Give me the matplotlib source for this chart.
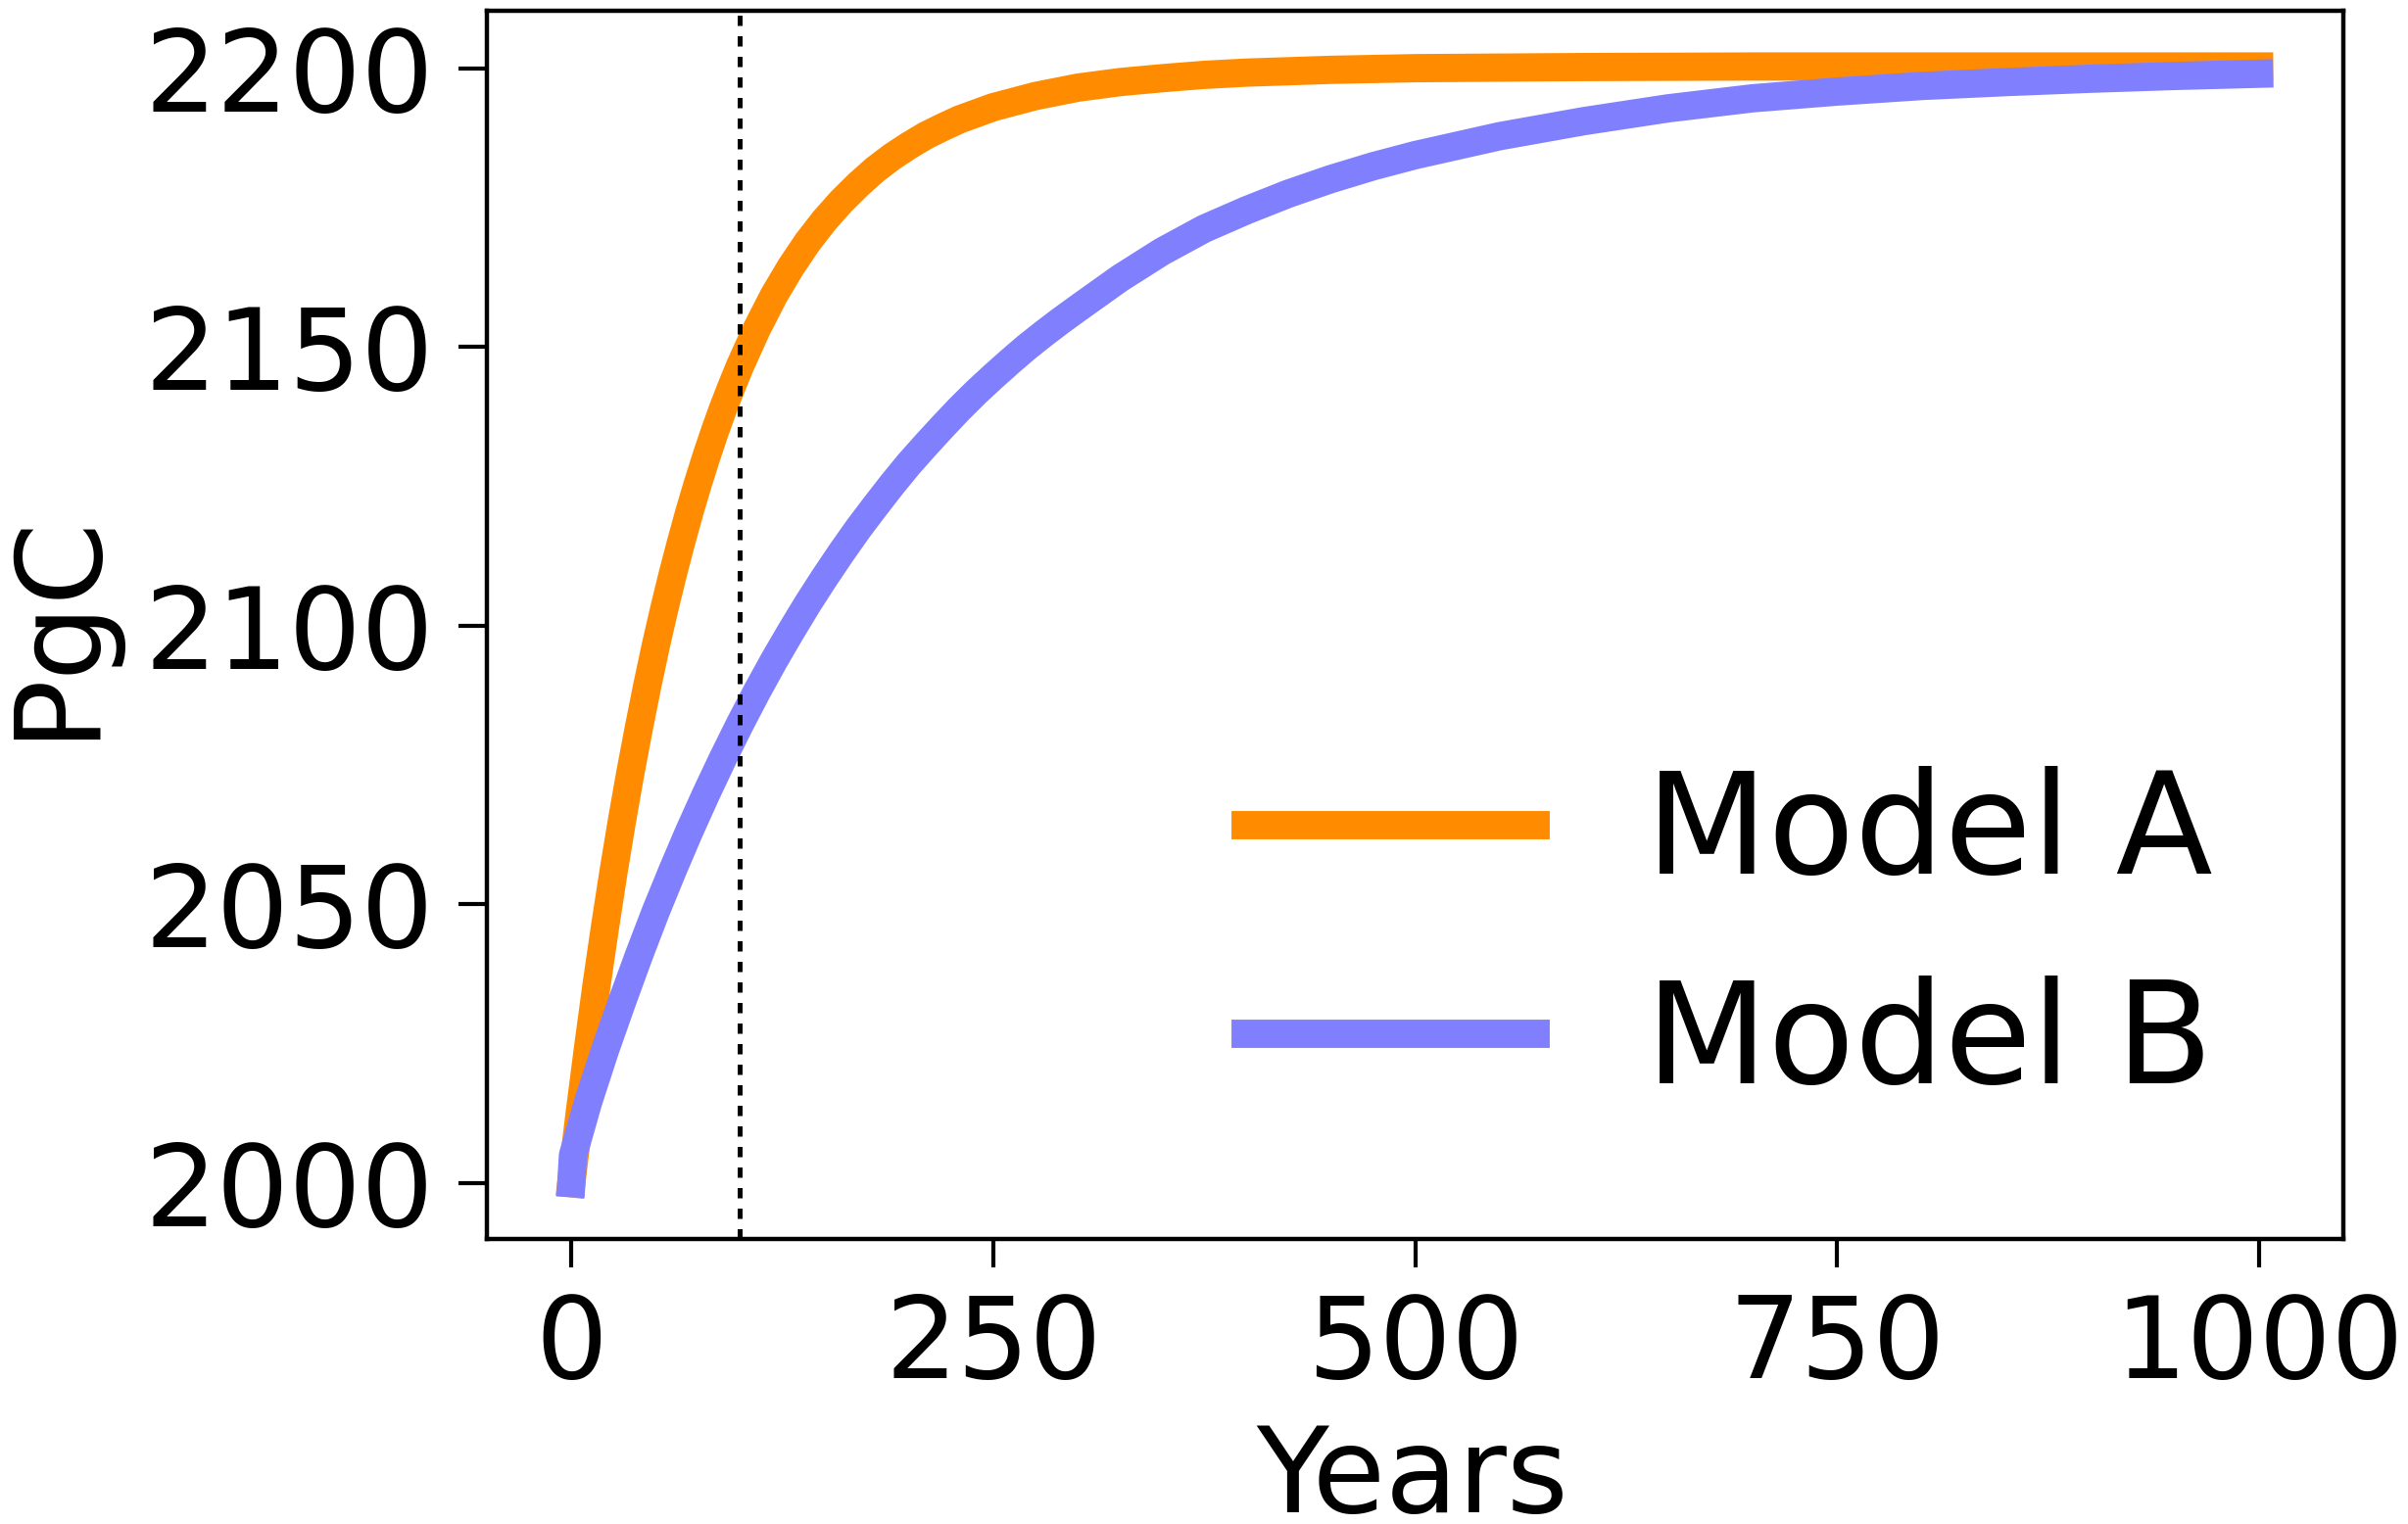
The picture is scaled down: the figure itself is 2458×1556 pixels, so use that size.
import matplotlib
matplotlib.use("Agg")
import matplotlib.pyplot as plt

# ---- data ----
years_a = [0, 5, 10, 15, 20, 25, 30, 35, 40, 45, 50, 55, 60, 65, 70, 75, 80, 85, 90, 95,
           100, 110, 120, 130, 140, 150, 160, 170, 180, 190, 200, 210, 220, 230, 240,
           250, 275, 300, 325, 350, 375, 400, 450, 500, 600, 700, 800, 900, 1000]
model_a = [2000.0, 2012.6, 2024.4, 2035.6, 2046.0, 2055.8, 2065.0, 2073.6, 2081.6,
           2089.2, 2096.3, 2102.9, 2109.1, 2114.9, 2120.4, 2125.5, 2130.3, 2134.8,
           2139.0, 2142.9, 2146.6, 2153.3, 2159.2, 2164.3, 2168.8, 2172.7, 2176.1,
           2179.1, 2181.8, 2184.1, 2186.1, 2187.9, 2189.4, 2190.8, 2191.9, 2193.0,
           2195.0, 2196.5, 2197.5, 2198.2, 2198.8, 2199.2, 2199.7, 2200.0, 2200.2,
           2200.3, 2200.3, 2200.3, 2200.3]

years_b = [0, 1, 10, 20, 30, 40, 50, 60, 70, 80, 90, 100, 110, 120, 130, 140, 150, 160,
           170, 180, 190, 200, 210, 220, 230, 240, 250, 260, 270, 280, 290, 300, 325,
           350, 375, 400, 425, 450, 475, 500, 550, 600, 650, 700, 750, 800, 850, 900,
           950, 1000]
model_b = [2000.0, 2005.0, 2014.6, 2023.9, 2032.5, 2040.8, 2048.7, 2056.1, 2063.2,
           2069.9, 2076.3, 2082.4, 2088.2, 2093.7, 2098.9, 2103.9, 2108.6, 2113.1,
           2117.4, 2121.4, 2125.3, 2129.0, 2132.4, 2135.7, 2138.9, 2141.9, 2144.7,
           2147.4, 2150.0, 2152.4, 2154.7, 2156.9, 2162.3, 2167.1, 2171.2, 2174.5,
           2177.5, 2180.1, 2182.4, 2184.4, 2187.8, 2190.5, 2192.8, 2194.6, 2195.8,
           2196.8, 2197.5, 2198.1, 2198.6, 2199.0]

marker_year = 100
x_ticks = [0, 250, 500, 750, 1000]
y_ticks = [2000, 2050, 2100, 2150, 2200]
labels = ["Model A", "Model B"]
colors = ["#FF8C00", "#8080FF"]

fig = plt.figure(figsize=(24.58, 15.56), dpi=100)
ax = fig.add_axes([0.2022, 0.187, 0.771, 0.806])

ax.plot(years_a, model_a, color=colors[0], lw=20.8, solid_capstyle="projecting",
        solid_joinstyle="round", label=labels[0])
ax.plot(years_b, model_b, color=colors[1], lw=20.8, solid_capstyle="projecting",
        solid_joinstyle="round", label=labels[1])
ax.axvline(marker_year, color="black", lw=3.6, linestyle=(0, (2.1, 2.1)))

ax.set_xticks(x_ticks)
ax.set_yticks(y_ticks)
ax.tick_params(axis="both", labelsize=83.5, length=21, width=3, pad=18, direction="out")
for s in ax.spines.values():
    s.set_linewidth(3.2)

ax.set_xlabel("Years", fontsize=87)
ax.set_ylabel("PgC", fontsize=87)
ax.xaxis.set_label_coords(0.4987, -0.149)
ax.yaxis.set_label_coords(-0.2005, 0.5)

leg = ax.legend(loc="center left", bbox_to_anchor=(0.4086, 0.244), frameon=False,
                fontsize=104, handlelength=2.05, handletextpad=0.78,
                labelspacing=0.51, borderpad=0, borderaxespad=0)

fig.savefig("out.png", dpi=100)
